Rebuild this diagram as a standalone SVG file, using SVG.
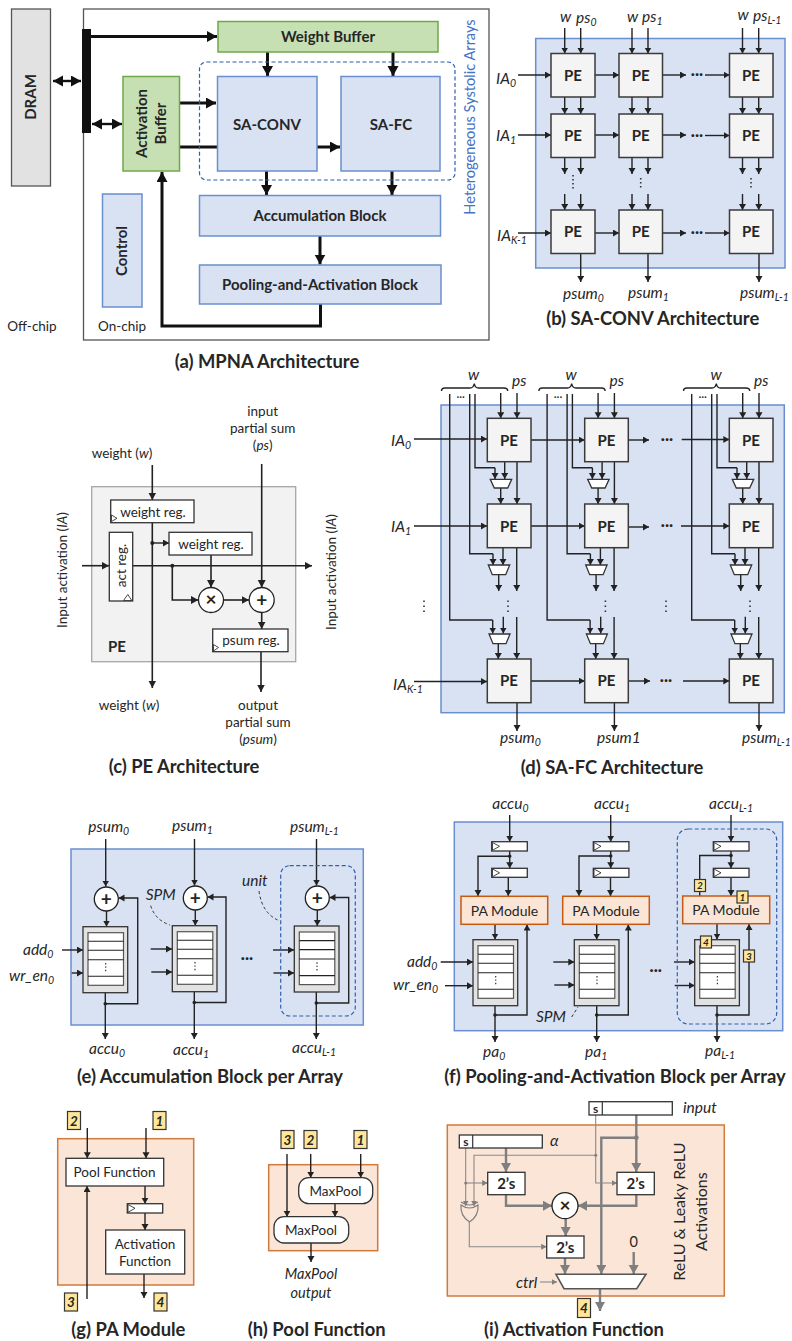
<svg xmlns="http://www.w3.org/2000/svg" xmlns:xlink="http://www.w3.org/1999/xlink" width="792" height="1341" viewBox="0 0 792 1341">
<style>
text{font-family:Lato,"Open Sans",sans-serif;fill:#262626;font-size:13.5px;text-anchor:middle}
.b{font-weight:700;font-size:15px}
.i{font-style:italic;font-size:15.5px;text-anchor:start}
.im{font-style:italic;text-anchor:middle;font-size:14.5px}
.cap{font-weight:700;font-size:18.4px}
.s{font-size:10.5px}
.blue{fill:#d9e2f3;stroke:#6a8fd0;stroke-width:1.5}
.green{fill:#c6e0b4;stroke:#6fa84a;stroke-width:1.5}
.pe{fill:#f4f4f4;stroke:#3a3a3a;stroke-width:1.5}
.w{fill:#fff;stroke:#333;stroke-width:1.3}
.cir{fill:#fff;stroke:#222;stroke-width:1.3}
.org{fill:#fbe5d6;stroke:#d07a3c;stroke-width:1.5}
.orgm{fill:#fbe5d6;stroke:#c55a11;stroke-width:1.5}
.dash{fill:none;stroke:#2f5fae;stroke-width:1.2;stroke-dasharray:4 2.5}
.dk{fill:none;stroke:#333;stroke-width:1;stroke-dasharray:3 2.5}
.a{fill:none;stroke:#222;stroke-width:1.4;marker-end:url(#ms)}
.l{fill:none;stroke:#222;stroke-width:1.4}
.m{fill:none;stroke:#222;stroke-width:1.6;marker-end:url(#mm)}
.A{fill:none;stroke:#111;stroke-width:3;marker-end:url(#mL)}
.L{fill:none;stroke:#111;stroke-width:3}
.D{fill:none;stroke:#111;stroke-width:2.4;marker-end:url(#mL);marker-start:url(#mL)}
.g{fill:none;stroke:#7f7f7f;stroke-width:2.4;marker-end:url(#gL)}
.gl{fill:none;stroke:#7f7f7f;stroke-width:2.4}
.gt{fill:none;stroke:#8a8a8a;stroke-width:1.1;marker-end:url(#gs)}
.gn{fill:none;stroke:#8a8a8a;stroke-width:1.1}
.bad{fill:#ffe699;stroke:#333;stroke-width:1.2}
.bt{font-weight:700;font-style:italic;font-size:10px}
.bt2{font-weight:700;font-style:italic;font-size:13.5px}
.dot{fill:#222}
.clk{fill:#fff;stroke:#333;stroke-width:.9}
</style>
<defs>
<marker id="ms" markerUnits="userSpaceOnUse" markerWidth="8" markerHeight="8" refX="6" refY="3.5" orient="auto-start-reverse"><path d="M0 0L6 3.5L0 7z" fill="#222"/></marker>
<marker id="mm" markerUnits="userSpaceOnUse" markerWidth="10" markerHeight="10" refX="7.5" refY="4" orient="auto-start-reverse"><path d="M0 0L7.5 4L0 8z" fill="#222"/></marker>
<marker id="mL" markerUnits="userSpaceOnUse" markerWidth="12" markerHeight="12" refX="10" refY="5.5" orient="auto-start-reverse"><path d="M0 0L10 5.5L0 11z" fill="#111"/></marker>
<marker id="gL" markerUnits="userSpaceOnUse" markerWidth="12" markerHeight="12" refX="9" refY="5" orient="auto-start-reverse"><path d="M0 0L9 5L0 10z" fill="#7f7f7f"/></marker>
<marker id="gs" markerUnits="userSpaceOnUse" markerWidth="8" markerHeight="8" refX="5.5" refY="3" orient="auto-start-reverse"><path d="M0 0L5.5 3L0 6z" fill="#7f7f7f"/></marker>
<g id="dcol">
<path class="l" d="M449.7 394V620H492.7"/><path class="a" d="M492.7 620V633.5"/>
<path class="l" d="M469.7 394V553.7H493"/><path class="a" d="M493 553.7V565"/>
<path class="l" d="M475 394V467.7H495"/><path class="a" d="M495 467.7V479"/>
<path class="a" d="M500.7 393V418.3"/><path class="a" d="M517 393V418.3"/>
<path class="a" d="M504.7 461.7V479"/><path class="a" d="M517 461.7V504"/><path class="a" d="M500.7 488V504"/>
<path class="a" d="M503 547.7V565"/><path class="a" d="M516.7 547.7V591"/><path class="a" d="M498.7 574.7V591"/>
<path class="a" d="M503.3 616.7V633.5"/><path class="a" d="M516.7 617V659"/><path class="a" d="M498.3 643.7V659"/>
<path class="l" d="M441.5 391Q441.5 388 445 388H470Q473.5 388 474.3 383.5Q475 388 478.5 388H504Q507.7 388 507.7 391" stroke-width="1"/>
</g>
<g id="spm"><rect x="83" y="926.7" width="44.7" height="66" fill="#e2e2e2" stroke="#333" stroke-width="1.3"/><rect x="88" y="932.7" width="35.5" height="52.6" fill="#fff" stroke="#555" stroke-width="1.2"/><path d="M88 941.3H123.5M88 950.3H123.5M88 959.7H123.5M88 976.3H123.5" stroke="#222" stroke-width="1.1"/><path d="M105.7 963V973" stroke="#333" stroke-width="1.2" stroke-dasharray="1.4 2"/></g>
</defs>

<g id="panel-backgrounds">
<rect x="83.5" y="9" width="405.5" height="331" fill="#fff" stroke="#555" stroke-width="1.3"/>
<rect x="535.7" y="38.5" width="249.3" height="229.5" class="blue"/>
<rect x="91.7" y="486.7" width="204" height="175" fill="#f2f2f2" stroke="#a6a6a6" stroke-width="1.3"/>
<rect x="441" y="405" width="343.3" height="307.7" class="blue"/>
<rect x="71" y="849" width="292.3" height="176" class="blue"/>
<rect x="454.3" y="822" width="328.4" height="208.7" class="blue"/>
<rect x="57.7" y="1138.7" width="136" height="146.3" class="org"/>
<rect x="268.7" y="1164.7" width="109" height="86" class="org"/>
<rect x="447.3" y="1125" width="277" height="171" class="org"/>
</g>

<g id="connectors">
<!-- a -->
<path class="A" d="M91 36.5H217"/><path class="D" d="M53 81H81"/><path class="D" d="M92 124H122"/>
<path class="A" d="M180 103H216"/><path class="L" d="M180 147H217"/><path class="A" d="M317 147H340"/>
<path class="A" d="M267.5 52V76"/><path class="A" d="M393 52V76"/><path class="A" d="M266.5 171V195"/><path class="A" d="M392 171V195"/>
<path class="A" d="M320 236V264.5"/><path class="A" d="M320.5 304V326H162V172"/>
<!-- b -->
<path class="a" d="M564.7 28V53.5"/><path class="a" d="M580.7 28V53.5"/><path class="a" d="M632 28V53.5"/><path class="a" d="M648 28V53.5"/><path class="a" d="M742.5 28V53.5"/><path class="a" d="M758.7 28V53.5"/>
<path class="a" d="M564.7 97V114"/><path class="a" d="M580.7 97V114"/><path class="a" d="M632 97V114"/><path class="a" d="M648 97V114"/><path class="a" d="M742.5 97V114"/><path class="a" d="M758.7 97V114"/>
<path class="a" d="M564.7 157V174"/><path class="a" d="M580.7 157V174"/><path class="a" d="M632 157V174"/><path class="a" d="M648 157V174"/><path class="a" d="M742.5 157V174"/><path class="a" d="M758.7 157V174"/>
<path class="a" d="M564.7 194V210"/><path class="a" d="M580.7 194V210"/><path class="a" d="M632 194V210"/><path class="a" d="M648 194V210"/><path class="a" d="M742.5 194V210"/><path class="a" d="M758.7 194V210"/>
<path class="a" d="M518 75H551"/><path class="a" d="M595 75H619"/><path class="a" d="M662.5 75H686"/><path class="a" d="M705 75H729.5"/>
<path class="a" d="M518 135H551"/><path class="a" d="M595 135H619"/><path class="a" d="M662.5 135H686"/><path class="a" d="M705 135.5H729.5"/>
<path class="a" d="M518 233H551"/><path class="a" d="M595 233H619"/><path class="a" d="M662.5 233H686"/><path class="a" d="M705 233H729.5"/>
<path class="a" d="M580.7 253.5V282"/><path class="a" d="M648 253.5V282"/><path class="a" d="M759 253.5V282"/>
<!-- c -->
<path class="m" d="M152.3 465V500"/><path class="m" d="M152.3 522V688"/><path class="a" d="M152.3 543H169"/>
<path class="m" d="M82 565.7H109"/><path class="m" d="M132.7 565.7H312"/><path class="m" d="M172.3 565.7V600H198.5"/>
<path class="m" d="M211 555V587.5"/><path class="m" d="M224 600H249"/><path class="m" d="M261.7 464V587.5"/><path class="m" d="M261.7 612.5V629"/><path class="m" d="M261 651.7V692"/>
<!-- d -->
<use href="#dcol"/><use href="#dcol" x="97.4"/><use href="#dcol" x="242"/>
<path class="a" d="M414 439H487"/><path class="a" d="M531 440H584.7"/><path class="a" d="M628 440H649"/><path class="a" d="M681.7 439.5H729.3"/>
<path class="a" d="M414 526H487"/><path class="a" d="M531 526H584.7"/><path class="a" d="M628 527H649"/><path class="a" d="M681 526H729.3"/>
<path class="a" d="M414 681.5H487"/><path class="a" d="M531 681H584.7"/><path class="a" d="M628 681H650"/><path class="a" d="M683 681H729.3"/>
<path class="a" d="M517 702.7V731"/><path class="a" d="M614.4 702.7V731"/><path class="a" d="M759 702.7V731"/>
<!-- e -->
<path class="a" d="M105.7 839V886.5"/><path class="a" d="M106.5 911V926.5"/><path class="a" d="M105.3 992V1039"/><path class="a" d="M105.3 1003.7H137.7V898H118.5"/>
<path class="a" d="M62 950H83"/><path class="a" d="M71.7 973H83"/>
<path class="a" d="M194.5 839V885.5"/><path class="a" d="M195.3 910V925.5"/><path class="a" d="M194.3 991V1039"/><path class="a" d="M194.3 1002.5H226V897H207.5"/>
<path class="a" d="M150.7 949H172"/><path class="a" d="M151.3 972H172"/>
<path class="a" d="M316.5 839V885.5"/><path class="a" d="M317.3 910V926"/><path class="a" d="M316.3 992V1039"/><path class="a" d="M316.3 1003H348.7V897.5H329.5"/>
<path class="a" d="M273 950H294"/><path class="a" d="M273.5 973H294"/>
<!-- f -->
<path class="a" d="M509.7 815V841.7"/><path class="a" d="M509.7 851V868.3"/><path class="a" d="M509.7 856.3H478V896"/><path class="a" d="M508.3 877.3V896"/><path class="a" d="M495 924V939.5"/><path class="a" d="M495 1006V1042"/><path class="a" d="M495 1015H527V924.5"/>
<path class="a" d="M440.7 962H473"/><path class="a" d="M445 985.7H473"/>
<path class="a" d="M610.7 815V841.7"/><path class="a" d="M610.7 851V868.3"/><path class="a" d="M610.7 856H579V896"/><path class="a" d="M610.5 877.3V896"/><path class="a" d="M596.7 924V939.5"/><path class="a" d="M596.7 1006V1042"/><path class="a" d="M596.7 1015H628.3V924.5"/>
<path class="a" d="M553.3 962H574.3"/><path class="a" d="M554.3 985H574.3"/>
<path class="a" d="M731 815V841.7"/><path class="a" d="M731 851V868.3"/><path class="l" d="M731 855.5H699.7V896"/><path class="a" d="M731 877.3V896"/><path class="a" d="M717 924V939.5"/><path class="a" d="M717 1006V1042"/><path class="a" d="M717 1015H749V924"/>
<path class="a" d="M674 962H694.7"/><path class="a" d="M674.7 985.5H694.7"/>
<!-- g -->
<path class="a" d="M87.3 1128V1158.3"/><path class="a" d="M146 1128V1158.3"/><path class="a" d="M145 1186V1203.7"/><path class="a" d="M145 1213V1230"/><path class="a" d="M144 1274V1298"/><path class="a" d="M87 1299V1186"/>
<!-- h -->
<path class="a" d="M287 1154V1216.7"/><path class="a" d="M310.7 1154V1177.7"/><path class="a" d="M360.7 1154V1177.7"/><path class="a" d="M335 1203.7V1216.7"/><path class="a" d="M311 1243V1262"/>
<!-- i -->
<path class="g" d="M636.3 1115V1172"/><path class="g" d="M636.3 1137.7H601.3V1274"/>
<path class="gt" d="M595.7 1115V1183H617"/><path class="gt" d="M595.7 1155.3H474V1206"/>
<path class="gt" d="M465.7 1148V1206"/><path class="gt" d="M465.7 1183H487.7"/><path class="gt" d="M469.3 1222V1246.7H546.7"/>
<path class="g" d="M506 1148V1172"/><path class="g" d="M506 1194.7V1205.7H552"/><path class="g" d="M636.3 1194.7V1205.7H578"/>
<path class="g" d="M565.7 1218.7V1236"/><path class="g" d="M565 1258V1274"/><path class="g" d="M633.7 1252V1274"/><path class="g" d="M600 1288.7V1311"/>
<path class="gt" d="M540 1282H557"/>
</g>

<g id="bus"><rect x="82" y="29" width="9" height="104" fill="#111"/></g>
<rect id="hetero-boundary" x="199.5" y="62" width="255.5" height="118" rx="7" class="dash" stroke-width="1.3"/>

<g id="dram"><rect x="11.5" y="9" width="39" height="177" fill="#e2e2e2" stroke="#555" stroke-width="1.3"/><text class="b" transform="translate(36,97) rotate(-90)">DRAM</text></g>
<g id="weight-buffer"><rect x="218" y="21.5" width="220" height="30.5" class="green"/><text class="b" x="328" y="42">Weight Buffer</text></g>
<g id="sa-conv"><rect x="217.5" y="76.5" width="99.5" height="94.5" class="blue"/><text class="b" x="267" y="129.5">SA-CONV</text></g>
<g id="sa-fc"><rect x="341" y="76.5" width="99" height="94.5" class="blue"/><text class="b" x="391" y="129.5">SA-FC</text></g>
<g id="activation-buffer"><rect x="123" y="76.5" width="56.5" height="94.5" class="green"/><text class="b" transform="translate(147,123.5) rotate(-90)">Activation</text><text class="b" transform="translate(166,123.5) rotate(-90)">Buffer</text></g>
<g id="accumulation-block"><rect x="199.5" y="195.5" width="241" height="40.5" class="blue"/><text class="b" x="320" y="221">Accumulation Block</text></g>
<g id="pooling-block"><rect x="199.5" y="265" width="241.5" height="39" class="blue"/><text class="b" x="320" y="290">Pooling-and-Activation Block</text></g>
<g id="control"><rect x="102.5" y="194" width="39.5" height="113" class="blue"/><text class="b" transform="translate(127,251) rotate(-90)">Control</text></g>
<text x="32" y="331">Off-chip</text><text x="122" y="331">On-chip</text>
<text transform="translate(475,117) rotate(-90)" style="fill:#4472c4;font-size:14.6px">Heterogeneous Systolic Arrays</text>
<text class="cap" x="267" y="368">(a) MPNA Architecture</text>

<g id="pe-b-00"><rect x="551" y="53.5" width="44" height="43.5" class="pe"/><text class="b" x="573" y="80.5">PE</text></g>
<g id="pe-b-01"><rect x="619" y="53.5" width="43.5" height="43.5" class="pe"/><text class="b" x="640.7" y="80.5">PE</text></g>
<g id="pe-b-02"><rect x="729.5" y="53.5" width="43.5" height="43.5" class="pe"/><text class="b" x="751" y="80.5">PE</text></g>
<g id="pe-b-10"><rect x="551" y="114" width="44" height="43.5" class="pe"/><text class="b" x="573" y="141">PE</text></g>
<g id="pe-b-11"><rect x="619" y="114" width="43.5" height="43.5" class="pe"/><text class="b" x="640.7" y="141">PE</text></g>
<g id="pe-b-12"><rect x="729.5" y="114" width="43.5" height="43.5" class="pe"/><text class="b" x="751" y="141">PE</text></g>
<g id="pe-b-20"><rect x="551" y="210" width="44" height="43.5" class="pe"/><text class="b" x="573" y="237">PE</text></g>
<g id="pe-b-21"><rect x="619" y="210" width="43.5" height="43.5" class="pe"/><text class="b" x="640.7" y="237">PE</text></g>
<g id="pe-b-22"><rect x="729.5" y="210" width="43.5" height="43.5" class="pe"/><text class="b" x="751" y="237">PE</text></g>
<g id="labels-b">
<text class="i" x="560" y="22">w</text><text class="i" x="576" y="23">ps<tspan class="s" dy="3">0</tspan></text>
<text class="i" x="627" y="22">w</text><text class="i" x="642" y="22">ps<tspan class="s" dy="3">1</tspan></text>
<text class="i" x="737.5" y="20">w</text><text class="i" x="753" y="21">ps<tspan class="s" dy="3">L-1</tspan></text>
<text class="i" x="496" y="84">IA<tspan class="s" dy="3">0</tspan></text><text class="i" x="496" y="141">IA<tspan class="s" dy="3">1</tspan></text><text class="i" x="497" y="241">IA<tspan class="s" dy="3">K-1</tspan></text>
<text class="i" x="563" y="299">psum<tspan class="s" dy="3">0</tspan></text><text class="i" x="628" y="298">psum<tspan class="s" dy="3">1</tspan></text><text class="i" x="740" y="298">psum<tspan class="s" dy="3">L-1</tspan></text>
<text x="697" y="79" class="b">···</text><text x="697" y="139.5" class="b">···</text><text x="697" y="237" class="b">···</text>
</g>
<path d="M573 175V190M640.7 178V190M751 178V190" stroke="#333" stroke-width="1.6" stroke-dasharray="1.6 2.4" fill="none"/>
<text class="cap" x="652.7" y="325">(b) SA-CONV Architecture</text>

<g id="weight-reg-1"><rect x="110.7" y="500" width="83.3" height="22.7" class="w"/><path class="clk" d="M111.5 515L117 518.3L111.5 521.5z"/><text x="153" y="517">weight reg.</text></g>
<g id="weight-reg-2"><rect x="169" y="532.3" width="83" height="22.7" class="w"/><text x="211" y="548.7">weight reg.</text></g>
<g id="act-reg"><rect x="109.3" y="532.3" width="23.4" height="68.7" class="w"/><path class="clk" d="M123.5 600.5L127.8 594.5L131.8 600.5z"/><text transform="translate(125.5,565.5) rotate(-90)">act reg.</text></g>
<g id="psum-reg"><rect x="212.7" y="629" width="75.3" height="22.7" class="w"/><path class="clk" d="M213.5 644.5L218.5 647.5L213.5 651z"/><text x="251" y="645">psum reg.</text></g>
<g id="multiplier"><circle cx="211" cy="600" r="12.5" class="cir"/><text class="b" x="211" y="606" style="font-size:19px">×</text></g>
<g id="adder"><circle cx="261.7" cy="600" r="12.5" class="cir"/><text class="b" x="261.7" y="606.5" style="font-size:19px">+</text></g>
<circle class="dot" cx="152.3" cy="543" r="2"/><circle class="dot" cx="172.3" cy="565.7" r="2"/>
<g id="labels-c">
<text x="122" y="457.5">weight (<tspan font-style="italic">w</tspan>)</text>
<text x="262.7" y="415.5">input</text><text x="262.7" y="432.5">partial sum</text><text x="262.7" y="449.5">(<tspan font-style="italic">ps</tspan>)</text>
<text x="129" y="710">weight (<tspan font-style="italic">w</tspan>)</text>
<text x="258" y="709.5">output</text><text x="258" y="726.5">partial sum</text><text x="258" y="743.5">(<tspan font-style="italic">psum</tspan>)</text>
<text class="b" x="117" y="652">PE</text>
<text transform="translate(67,570) rotate(-90)">Input activation (<tspan font-style="italic">IA</tspan>)</text>
<text transform="translate(336,572) rotate(-90)">Input activation (<tspan font-style="italic">IA</tspan>)</text>
</g>
<text class="cap" x="184" y="773">(c) PE Architecture</text>

<g id="pe-d-00"><rect x="487.3" y="418.3" width="43.7" height="43.4" class="pe"/><text class="b" x="509" y="445.5">PE</text></g>
<g id="pe-d-01"><rect x="584.7" y="418.3" width="43.6" height="43.4" class="pe"/><text class="b" x="606.5" y="445.5">PE</text></g>
<g id="pe-d-02"><rect x="729.3" y="418.3" width="43.7" height="43.4" class="pe"/><text class="b" x="751" y="445.5">PE</text></g>
<g id="pe-d-10"><rect x="487.3" y="504" width="43.7" height="43.7" class="pe"/><text class="b" x="509" y="531.5">PE</text></g>
<g id="pe-d-11"><rect x="584.7" y="504" width="43.6" height="43.7" class="pe"/><text class="b" x="606.5" y="531.5">PE</text></g>
<g id="pe-d-12"><rect x="729.3" y="504" width="43.7" height="43.7" class="pe"/><text class="b" x="751" y="531.5">PE</text></g>
<g id="pe-d-20"><rect x="487.3" y="659" width="43.7" height="43.7" class="pe"/><text class="b" x="509" y="686">PE</text></g>
<g id="pe-d-21"><rect x="584.7" y="659" width="43.6" height="43.7" class="pe"/><text class="b" x="606.5" y="686">PE</text></g>
<g id="pe-d-22"><rect x="729.3" y="659" width="43.7" height="43.7" class="pe"/><text class="b" x="751" y="686">PE</text></g>
<g id="muxes-d">
<path class="w" d="M490.3 479.3H511.7L507.7 488H494.3zM587.7 479.3H609.1L605.1 488H591.7zM732.3 479.3H753.7L749.7 488H736.3z"/>
<path class="w" d="M488.3 565H509.7L505.7 574.7H492.3zM585.7 565H607.1L603.1 574.7H589.7zM730.3 565H751.7L747.7 574.7H734.3z"/>
<path class="w" d="M489 634H510L506 643.7H493zM586.4 634H607.4L603.4 643.7H590.4zM731 634H752L748 643.7H735z"/>
</g>
<path d="M424 600.5V612M508 600.5V612M605.4 600.5V612M666 600.5V612M750 600.5V612" stroke="#333" stroke-width="1.6" stroke-dasharray="1.6 3.4" fill="none"/>
<g id="labels-d">
<text class="i" x="468" y="380">w</text><text class="i" x="512" y="386">ps</text>
<text class="i" x="565.5" y="380">w</text><text class="i" x="609.5" y="386">ps</text>
<text class="i" x="710.5" y="380">w</text><text class="i" x="754" y="386">ps</text>
<text x="460.7" y="401" style="font-size:11px">···</text><text x="558" y="401" style="font-size:11px">···</text><text x="702.7" y="401" style="font-size:11px">···</text>
<text x="667" y="444" class="b">···</text><text x="667" y="530" class="b">···</text><text x="666" y="685" class="b">···</text>
<text class="i" x="391" y="446">IA<tspan class="s" dy="3">0</tspan></text><text class="i" x="391" y="532">IA<tspan class="s" dy="3">1</tspan></text><text class="i" x="393" y="690">IA<tspan class="s" dy="3">K-1</tspan></text>
<text class="i" x="500" y="743">psum<tspan class="s" dy="3">0</tspan></text><text class="i" x="597" y="743">psum1</text><text class="i" x="742" y="743">psum<tspan class="s" dy="3">L-1</tspan></text>
</g>
<text class="cap" x="612" y="774">(d) SA-FC Architecture</text>

<g id="unit-e-0"><circle cx="106.3" cy="899" r="12" class="cir"/><text class="b" x="106.3" y="905.5" style="font-size:19px">+</text><use href="#spm"/></g>
<g id="unit-e-1"><circle cx="195.3" cy="898" r="12" class="cir"/><text class="b" x="195.3" y="904.5" style="font-size:19px">+</text><use href="#spm" x="89.3" y="-1"/></g>
<g id="unit-e-2"><circle cx="317.3" cy="898" r="12" class="cir"/><text class="b" x="317.3" y="904.5" style="font-size:19px">+</text><use href="#spm" x="211.3" y="-.7"/></g>
<circle class="dot" cx="105.3" cy="1003.7" r="1.8"/><circle class="dot" cx="194.3" cy="1002.5" r="1.8"/><circle class="dot" cx="316.3" cy="1003" r="1.8"/>
<rect id="unit-boundary-e" x="280.7" y="865.7" width="74.6" height="150.3" rx="9" class="dash"/>
<path class="dk" d="M150.7 905.7Q155 920 170 925"/><path class="dk" d="M259 891Q262 914 280 921"/>
<g id="labels-e">
<text class="i" x="88.3" y="832">psum<tspan class="s" dy="3">0</tspan></text><text class="i" x="172" y="831">psum<tspan class="s" dy="3">1</tspan></text><text class="i" x="290" y="832">psum<tspan class="s" dy="3">L-1</tspan></text>
<text class="i" x="23" y="955">add<tspan class="s" dy="3">0</tspan></text><text class="i" x="9" y="981">wr_en<tspan class="s" dy="3">0</tspan></text>
<text class="i" x="89" y="1054">accu<tspan class="s" dy="3">0</tspan></text><text class="i" x="173" y="1055">accu<tspan class="s" dy="3">1</tspan></text><text class="i" x="292" y="1053">accu<tspan class="s" dy="3">L-1</tspan></text>
<text class="i" x="145.7" y="900">SPM</text><text class="i" x="242" y="886">unit</text>
<text x="247" y="963" class="b">···</text>
</g>
<text class="cap" x="210" y="1082.5">(e) Accumulation Block per Array</text>

<g id="unit-f-0"><rect x="491.7" y="841.7" width="35.6" height="9.3" class="w"/><path class="clk" d="M492.5 842.5L499.5 846.3L492.5 850.3z"/><rect x="491.7" y="868.3" width="35.6" height="9" class="w"/><path class="clk" d="M492.5 869L499.5 872.8L492.5 876.7z"/><rect x="461" y="896.3" width="86.7" height="28" class="orgm"/><text x="504.5" y="915.5" style="font-size:14px">PA Module</text><use href="#spm" x="390" y="13"/></g>
<g id="unit-f-1"><rect x="593.3" y="841.7" width="35.6" height="9.3" class="w"/><path class="clk" d="M594 842.5L601 846.3L594 850.3z"/><rect x="593.3" y="868.3" width="35.6" height="9" class="w"/><path class="clk" d="M594 869L601 872.8L594 876.7z"/><rect x="562.7" y="896.3" width="86.6" height="28" class="orgm"/><text x="606" y="915.5" style="font-size:14px">PA Module</text><use href="#spm" x="491.3" y="13"/></g>
<g id="unit-f-2"><rect x="713.3" y="841.7" width="35.7" height="9.3" class="w"/><path class="clk" d="M714 842.5L721 846.3L714 850.3z"/><rect x="713.3" y="868.3" width="35.7" height="9" class="w"/><path class="clk" d="M714 869L721 872.8L714 876.7z"/><rect x="682.7" y="896" width="87" height="27.7" class="orgm"/><text x="726" y="915" style="font-size:14px">PA Module</text><use href="#spm" x="611.7" y="13"/></g>
<circle class="dot" cx="509.7" cy="856.3" r="1.8"/><circle class="dot" cx="610.7" cy="856" r="1.8"/><circle class="dot" cx="731" cy="855.5" r="1.8"/><circle class="dot" cx="495" cy="1015" r="1.8"/><circle class="dot" cx="596.7" cy="1015" r="1.8"/><circle class="dot" cx="717" cy="1015" r="1.8"/>
<rect id="unit-boundary-f" x="677.3" y="829" width="99.4" height="195" rx="11" class="dash"/>
<path class="dk" d="M571.7 1017L578 1007"/>
<g id="badges-f">
<rect x="694.5" y="879.5" width="11" height="12" class="bad"/><text class="bt" x="700" y="889">2</text>
<rect x="737" y="891" width="11" height="12" class="bad"/><text class="bt" x="742.5" y="900.5">1</text>
<rect x="700.5" y="936" width="11" height="12" class="bad"/><text class="bt" x="706" y="945.5">4</text>
<rect x="743.5" y="950" width="11" height="12" class="bad"/><text class="bt" x="749" y="959.5">3</text>
</g>
<g id="labels-f">
<text class="i" x="492.3" y="809">accu<tspan class="s" dy="3">0</tspan></text><text class="i" x="594" y="809">accu<tspan class="s" dy="3">1</tspan></text><text class="i" x="709" y="809">accu<tspan class="s" dy="3">L-1</tspan></text>
<text class="i" x="483" y="1057">pa<tspan class="s" dy="3">0</tspan></text><text class="i" x="585" y="1057">pa<tspan class="s" dy="3">1</tspan></text><text class="i" x="705" y="1056">pa<tspan class="s" dy="3">L-1</tspan></text>
<text class="i" x="407" y="967">add<tspan class="s" dy="3">0</tspan></text><text class="i" x="393" y="990">wr_en<tspan class="s" dy="3">0</tspan></text>
<text class="i" x="536" y="1022">SPM</text><text x="655.7" y="975" class="b">···</text>
</g>
<text class="cap" x="615" y="1083">(f) Pooling-and-Activation Block per Array</text>

<g id="pool-function"><rect x="66" y="1158.3" width="97.7" height="27.7" class="w"/><text x="114.5" y="1177">Pool Function</text></g>
<g id="pa-reg"><rect x="127.3" y="1203.7" width="35.4" height="9.3" class="w"/><path class="clk" d="M128 1204.5L135 1208.3L128 1212.3z"/></g>
<g id="activation-function"><rect x="105.7" y="1230" width="79" height="44" class="w"/><text x="145" y="1248.5">Activation</text><text x="145" y="1266">Function</text></g>
<g id="badges-g">
<rect x="67.5" y="1111.5" width="13" height="18" class="bad"/><text class="bt2" x="74" y="1125.5">2</text>
<rect x="153" y="1111.5" width="13" height="18" class="bad"/><text class="bt2" x="159.5" y="1125.5">1</text>
<rect x="64.5" y="1293" width="13" height="18" class="bad"/><text class="bt2" x="71" y="1307">3</text>
<rect x="154" y="1293" width="13" height="18" class="bad"/><text class="bt2" x="160.5" y="1307">4</text>
</g>
<text class="cap" x="128.3" y="1336">(g) PA Module</text>

<g id="maxpool-1"><rect x="298.7" y="1177.7" width="74" height="26" rx="10" class="w"/><text x="335.5" y="1195.5">MaxPool</text></g>
<g id="maxpool-2"><rect x="274" y="1216.7" width="74.7" height="26.3" rx="10" class="w"/><text x="311" y="1234.5">MaxPool</text></g>
<g id="badges-h">
<rect x="281" y="1130.5" width="13" height="18" class="bad"/><text class="bt2" x="287.5" y="1144.5">3</text>
<rect x="304" y="1130.5" width="13" height="18" class="bad"/><text class="bt2" x="310.5" y="1144.5">2</text>
<rect x="354" y="1130.5" width="13" height="18" class="bad"/><text class="bt2" x="360.5" y="1144.5">1</text>
</g>
<text class="im" x="311" y="1279">MaxPool</text><text class="im" x="311" y="1298">output</text>
<text class="cap" x="316.7" y="1336">(h) Pool Function</text>

<g id="input-reg"><rect x="589" y="1101.7" width="83.3" height="13.3" class="w"/><path d="M602.3 1101.7V1115" stroke="#333" stroke-width="1.2"/><text class="b" x="595.7" y="1112.5" style="font-size:12px">s</text></g>
<g id="alpha-reg"><rect x="459.3" y="1135" width="83" height="13" class="w"/><path d="M472.7 1135V1148" stroke="#333" stroke-width="1.2"/><text class="b" x="466" y="1145.5" style="font-size:12px">s</text></g>
<g id="twos-left"><rect x="487.7" y="1172.3" width="37.3" height="22.4" class="w"/><text class="b" x="506.3" y="1188.5">2’s</text></g>
<g id="twos-right"><rect x="617" y="1172.3" width="37.3" height="22.4" class="w"/><text class="b" x="635.7" y="1188.5">2’s</text></g>
<g id="twos-bottom"><rect x="546.7" y="1236" width="37.3" height="22" class="w"/><text class="b" x="565.3" y="1252.5">2’s</text></g>
<g id="multiplier-i"><circle cx="565" cy="1205.7" r="13" class="cir"/><text class="b" x="565" y="1212" style="font-size:19px">×</text></g>
<g id="mux-i"><path d="M556 1274.3H646L636.7 1288.7H564z" fill="#fff" stroke="#555" stroke-width="1.6"/></g>
<g id="xor-gate"><path d="M461 1205Q469.5 1211 478 1205Q479 1216 469.5 1222Q460 1216 461 1205z" fill="#fbe5d6" stroke="#7f7f7f" stroke-width="1.2"/><path d="M461 1202Q469.5 1208 478 1202" fill="none" stroke="#7f7f7f" stroke-width="1.2"/></g>
<circle cx="636.3" cy="1137.7" r="2.4" fill="#7f7f7f"/><circle cx="595.7" cy="1155.3" r="1.5" fill="#7f7f7f"/><circle cx="465.7" cy="1183" r="1.5" fill="#7f7f7f"/>
<g id="labels-i">
<text class="i" x="683" y="1113">input</text><text class="i" x="550" y="1146">α</text>
<text class="i" x="516" y="1288">ctrl</text><text x="633.7" y="1247" style="font-size:14.5px">0</text>
<text transform="translate(685,1211.7) rotate(-90)" style="font-size:16px">ReLU &amp; Leaky ReLU</text>
<text transform="translate(706.5,1211.7) rotate(-90)" style="font-size:16px">Activations</text>
<rect x="577.5" y="1298.5" width="13" height="19" class="bad"/><text class="bt2" x="584" y="1313">4</text>
</g>
<text class="cap" x="574" y="1336">(i) Activation Function</text>
</svg>
